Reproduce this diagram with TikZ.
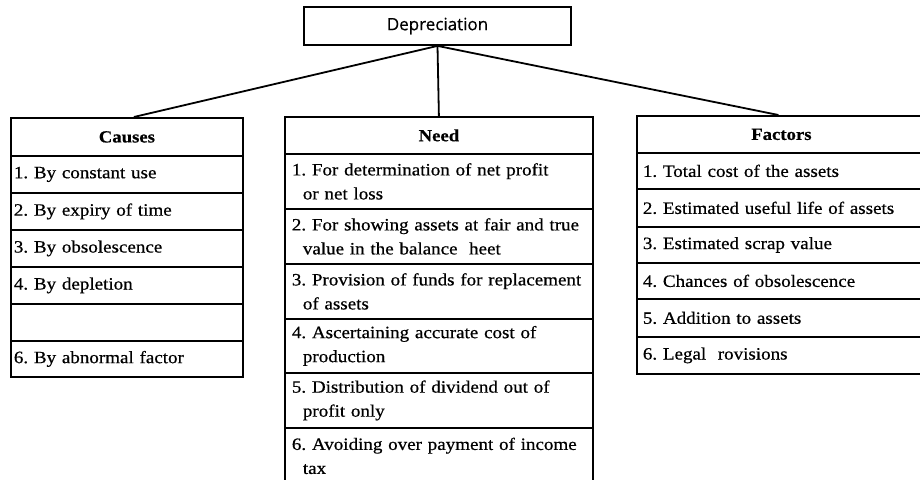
\documentclass[tikz,border=0pt]{standalone}
\usepackage{fontspec}
\setmainfont{Liberation Serif}[FakeStretch=1.1,FakeBold=0.6]
\newfontfamily\depfont{Open Sans}[FakeBold=0.5]
\begin{document}
\frenchspacing
\begin{tikzpicture}[x=1pt,y=-1pt,
  box/.style={draw, line width=1.8pt, anchor=north west, inner sep=0pt},
  hdr/.style={box, font=\fontsize{17}{20}\selectfont\bfseries, align=center},
  cell/.style={box, font=\fontsize{17.3}{24}\selectfont, align=left},
  conn/.style={line width=1.8pt}]
\useasboundingbox (0,0) rectangle (920,479);
\clip (0,0) rectangle (920,479);
% top
\node[draw, line width=1.8pt, minimum width=267pt, minimum height=38pt, inner sep=0pt,
  font=\depfont\fontsize{17}{20}\selectfont] (dep) at (437.5,26) {Depreciation};
% Causes
\node[hdr, minimum width=232pt, minimum height=38pt, text width=232pt] (ch) at (10,117) {Causes};
\node[cell, minimum height=37pt, text width=226pt, inner xsep=3pt] (c1) at (10,155) {1. By constant use};
\node[cell, minimum height=37pt, text width=226pt, inner xsep=3pt] (c2) at (10,192) {2. By expiry of time};
\node[cell, minimum height=37pt, text width=226pt, inner xsep=3pt] (c3) at (10,229) {3. By obsolescence};
\node[cell, minimum height=37pt, text width=226pt, inner xsep=3pt] (c4) at (10,266) {4. By depletion};
\node[cell, minimum height=37pt, text width=226pt, inner xsep=3pt] (c5) at (10,303) {};
\node[cell, minimum height=36pt, text width=226pt, inner xsep=3pt] (c6) at (10,340) {6. By abnormal factor};
% Need
\node[hdr, minimum width=308pt, minimum height=37pt, text width=308pt] (nh) at (284,116) {Need};
\node[cell, minimum height=55pt, text width=294pt, inner xsep=7pt] (n1) at (284,153) {1. For determination of net profit\\\hspace*{11pt}or net loss};
\node[cell, minimum height=55pt, text width=294pt, inner xsep=7pt] (n2) at (284,208) {2. For showing assets at fair and true\\\hspace*{11pt}value in the balance \ heet};
\node[cell, minimum height=55pt, text width=294pt, inner xsep=7pt] (n3) at (284,263) {3. Provision of funds for replacement\\\hspace*{11pt}of assets};
\node[cell, minimum height=54pt, text width=294pt, inner xsep=7pt] (n4) at (284,318) {4. Ascertaining accurate cost of\\\hspace*{11pt}production};
\node[cell, minimum height=55pt, text width=294pt, inner xsep=7pt] (n5) at (284,372) {5. Distribution of dividend out of\\\hspace*{11pt}profit only};
\node[cell, minimum height=56pt, text width=294pt, inner xsep=7pt] (n6) at (284,427) {6. Avoiding over payment of income\\\hspace*{11pt}tax};
% Factors
\node[hdr, minimum width=289pt, minimum height=37pt, text width=283pt] (fh) at (636,115) {Factors};
\node[cell, minimum height=36pt, text width=277pt, inner xsep=6pt] (f1) at (636,152) {1. Total cost of the assets};
\node[cell, minimum height=38pt, text width=277pt, inner xsep=6pt] (f2) at (636,188) {2. Estimated useful life of assets};
\node[cell, minimum height=36pt, text width=277pt, inner xsep=6pt] (f3) at (636,226) {3. Estimated scrap value};
\node[cell, minimum height=36pt, text width=277pt, inner xsep=6pt] (f4) at (636,262) {4. Chances of obsolescence};
\node[cell, minimum height=38pt, text width=277pt, inner xsep=6pt] (f5) at (636,298) {5. Addition to assets};
\node[cell, minimum height=37pt, text width=277pt, inner xsep=6pt] (f6) at (636,336) {6. Legal \ rovisions};
% connectors
\draw[conn] (dep.south) -- ([xshift=7pt]ch.north);
\draw[conn] (dep.south) -- (nh.north);
\draw[conn] (dep.south) -- ([xshift=-3pt]fh.north);
\end{tikzpicture}
\end{document}
